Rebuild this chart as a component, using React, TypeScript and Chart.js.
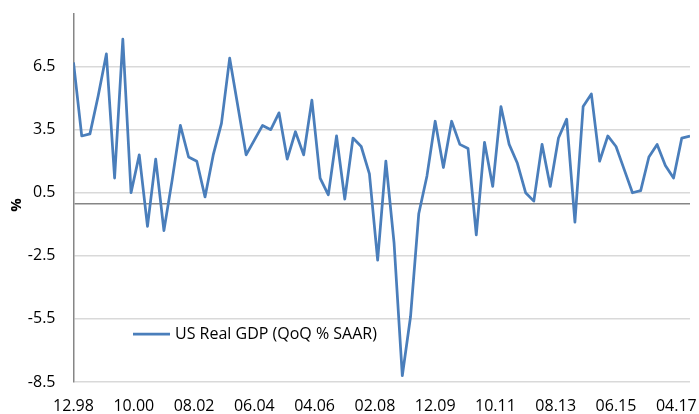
import React, { useEffect, useRef } from "react";
import { Chart, registerables } from "chart.js";

Chart.register(...registerables);

// Quarterly series, starting Q4 1998 (Dec 1998)
const startYear = 1998;
const startMonth = 12;
const gdpQoQ: number[] = [
  6.7,
  3.2, 3.3, 5.1, 7.1,
  1.2, 7.8, 0.5, 2.3,
  -1.1, 2.1, -1.3, 1.1,
  3.7, 2.2, 2.0, 0.3,
  2.3, 3.8, 6.9, 4.6,
  2.3, 3.0, 3.7, 3.5,
  4.3, 2.1, 3.4, 2.3,
  4.9, 1.2, 0.4, 3.2,
  0.2, 3.1, 2.7, 1.4,
  -2.7, 2.0, -1.9, -8.2,
  -5.4, -0.5, 1.3, 3.9,
  1.7, 3.9, 2.8, 2.6,
  -1.5, 2.9, 0.8, 4.6,
  2.8, 1.9, 0.5, 0.1,
  2.8, 0.8, 3.1, 4.0,
  -0.9, 4.6, 5.2, 2.0,
  3.2, 2.7, 1.6, 0.5,
  0.6, 2.2, 2.8, 1.8,
  1.2, 3.1, 3.2,
];
// x-axis tick positions, in months after Dec 1998
const xTickMonths = [0, 22, 44, 66, 88, 110, 132, 154, 176, 198, 220];
const yTicks = [-8.5, -5.5, -2.5, 0, 0.5, 3.5, 6.5];
const seriesLabel = "US Real GDP (QoQ % SAAR)";
const yTitle = "%";

const FONT = "'Open Sans', sans-serif";

function monthLabel(m: number): string {
  const total = startYear * 12 + (startMonth - 1) + m;
  const y = Math.floor(total / 12);
  const mo = (total % 12) + 1;
  return String(mo).padStart(2, "0") + "." + String(y % 100).padStart(2, "0");
}

export default function App() {
  const ref = useRef<HTMLCanvasElement | null>(null);

  useEffect(() => {
    document.body.style.margin = "0";
    const canvas = ref.current;
    if (!canvas) return;
    const points = gdpQoQ.map((v, i) => ({ x: i * 3, y: v }));

    const overlay = {
      id: "overlay",
      afterDraw(chart: any) {
        const ctx = chart.ctx;
        ctx.save();
        // legend
        ctx.strokeStyle = "#4a7ebb";
        ctx.lineWidth = 2.75;
        ctx.beginPath();
        ctx.moveTo(133, 334);
        ctx.lineTo(170, 334);
        ctx.stroke();
        ctx.fillStyle = "#000";
        ctx.font = `16px ${FONT}`;
        ctx.textBaseline = "middle";
        ctx.textAlign = "left";
        ctx.fillText(seriesLabel, 175, 334);
        // y title
        ctx.translate(17, 205);
        ctx.rotate(-Math.PI / 2);
        ctx.textAlign = "center";
        ctx.font = `bold 15px ${FONT}`;
        ctx.fillText(yTitle, 0, 0);
        ctx.restore();
      },
    };

    const chart = new Chart(canvas, {
      type: "line",
      data: {
        datasets: [
          {
            label: seriesLabel,
            data: points,
            borderColor: "#4a7ebb",
            borderWidth: 2.75,
            pointRadius: 0,
            tension: 0,
            borderJoinStyle: "round",
            fill: false,
          },
        ],
      },
      options: {
        responsive: false,
        animation: false,
        layout: { padding: { left: 0, top: 14, right: 9, bottom: 0 } },
        plugins: { legend: { display: false }, tooltip: { enabled: false } },
        scales: {
          x: {
            type: "linear",
            min: 0,
            max: 225,
            afterBuildTicks: (axis: any) => {
              axis.ticks = xTickMonths.map((v) => ({ value: v }));
            },
            afterFit: (axis: any) => {
              axis.height = 32;
              axis.paddingLeft = 0;
              axis.paddingRight = 0;
            },
            grid: { display: false, drawTicks: false },
            border: { display: false },
            ticks: {
              autoSkip: false,
              maxRotation: 0,
              padding: 15,
              color: "#000",
              font: { family: FONT, size: 16 },
              callback: (v: any) => monthLabel(Number(v)),
            },
          },
          y: {
            min: -8.5,
            max: 9,
            afterBuildTicks: (axis: any) => {
              axis.ticks = yTicks.map((v) => ({ value: v }));
            },
            afterFit: (axis: any) => {
              axis.width = 73.5;
              axis.paddingTop = 0;
              axis.paddingBottom = 0;
            },
            grid: {
              drawTicks: false,
              color: (c: any) => (c.tick && c.tick.value === 0 ? "#868686" : "#d9d9d9"),
              lineWidth: 1.5,
            },
            border: { display: true, color: "#868686", width: 1.5 },
            ticks: {
              padding: 18,
              color: "#000",
              font: { family: FONT, size: 16 },
              callback: (v: any) => (Number(v) === 0 ? "" : String(v)),
            },
          },
        },
      },
      plugins: [overlay],
    });
    return () => chart.destroy();
  }, []);

  return (
    <div style={{ width: 699, height: 414 }}>
      <canvas ref={ref} width={699} height={414} style={{ width: 699, height: 414, display: "block" }} />
    </div>
  );
}
